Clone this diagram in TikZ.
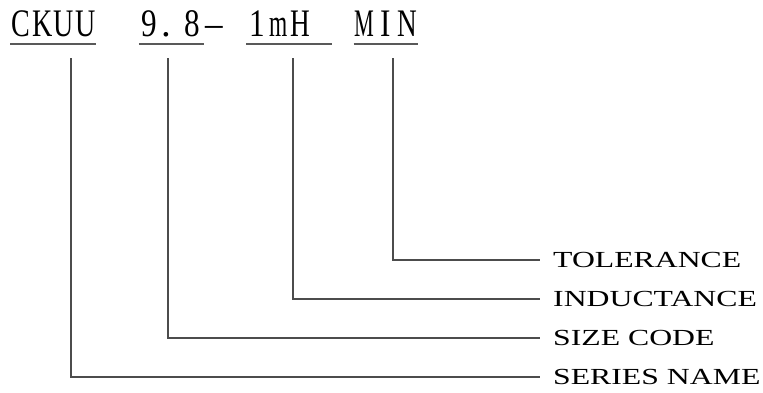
\documentclass[tikz,border=0pt]{standalone}
\usepackage{fontspec}
\setmainfont{Liberation Serif}
\usepackage{graphicx}
\newlength\cw \setlength\cw{21.47pt}
\newcommand\mc[2][0.72]{\makebox[\cw]{\scalebox{#1}[1]{#2}}}
\newcommand\lbl[1]{\scalebox{1.38}[1]{#1}}
\tikzset{
  topword/.style={anchor=base west, inner sep=0pt, font=\fontsize{39}{42}\selectfont},
  lab/.style={anchor=west, inner xsep=13pt, inner ysep=0pt, font=\fontsize{23}{25}\selectfont},
  uline/.style={draw=black!65, line width=1.2pt},
  leader/.style={draw=black!70, line width=1.2pt}
}
\begin{document}
\begin{tikzpicture}[x=1pt,y=-1pt]
\useasboundingbox (0,0) rectangle (763,392);
% top code
\node[topword] (ckuu) at (10,36) {\mc{C}\mc{K}\mc{U}\mc{U}};
\node[topword] (code) at (138.82,36) {\mc[0.8]{9}\makebox[\cw][l]{\hspace{1pt}.}\mc[0.8]{8}};
\node[topword] (dash) at (203.23,36) {\mc[0.9]{–}};
\node[topword] (ind) at (246.17,36) {\mc[0.8]{1}\mc[0.6]{m}\mc[0.7]{H}\makebox[\cw]{}};
\node[topword] (tol) at (353.52,36) {\mc[0.57]{M}\mc[0.8]{I}\mc[0.7]{N}};
% underlines
\foreach \w in {ckuu,code,ind,tol}
  \draw[uline] ([yshift=-8pt]\w.base west) -- ([yshift=-8pt]\w.base east);
% leader tops
\coordinate (t1) at (71,58);
\coordinate (t2) at (168,58);
\coordinate (t3) at (293,58);
\coordinate (t4) at (393,58);
% labels
\node[lab] (ltol) at (540,260) {\lbl{TOLERANCE}};
\node[lab] (lind) at (540,299) {\lbl{INDUCTANCE}};
\node[lab] (lsize) at (540,338) {\lbl{SIZE CODE}};
\node[lab] (lser) at (540,377) {\lbl{SERIES NAME}};
% leaders
\draw[leader] (t1) |- (lser.west);
\draw[leader] (t2) |- (lsize.west);
\draw[leader] (t3) |- (lind.west);
\draw[leader] (t4) |- (ltol.west);
\end{tikzpicture}
\end{document}
